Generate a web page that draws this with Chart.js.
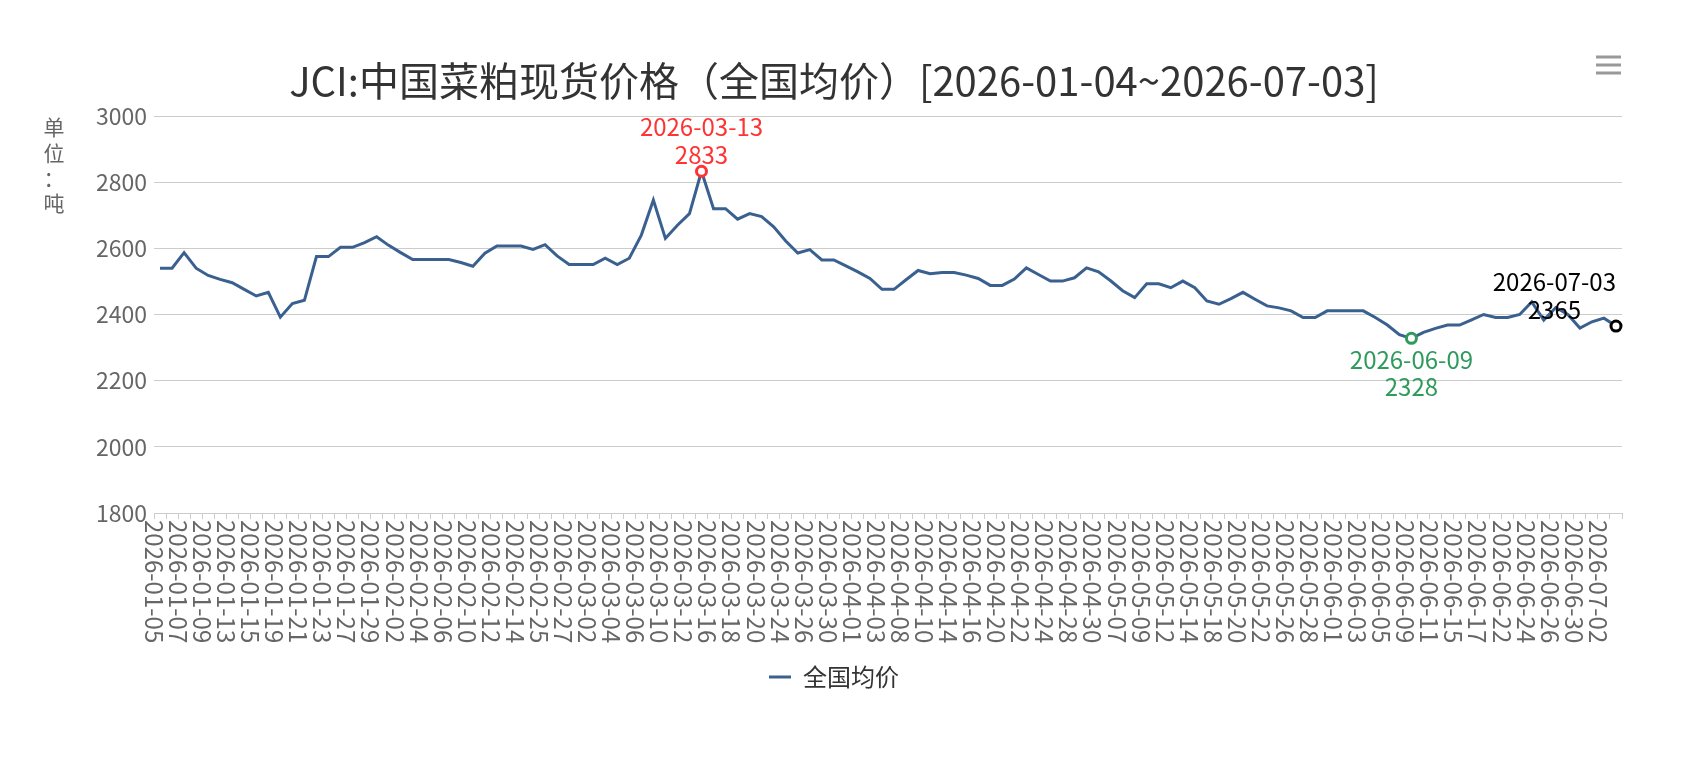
<!DOCTYPE html>
<html lang="zh-CN">
<head>
<meta charset="utf-8">
<title>JCI 中国菜粕现货价格</title>
<script src="https://cdn.jsdelivr.net/npm/chart.js@4.4.1/dist/chart.umd.min.js"></script>
<style>
  html, body { margin: 0; padding: 0; background: #fff; }
  #wrap { width: 1704px; height: 766px; position: relative; }
</style>
</head>
<body>
<div id="wrap"><canvas id="grafico" width="1704" height="766"></canvas></div>
<script>
// 交易日（横轴）
const fechas = [
  '2026-01-05','2026-01-06','2026-01-07','2026-01-08','2026-01-09',
  '2026-01-12','2026-01-13','2026-01-14','2026-01-15','2026-01-16',
  '2026-01-19','2026-01-20','2026-01-21','2026-01-22','2026-01-23',
  '2026-01-26','2026-01-27','2026-01-28','2026-01-29','2026-01-30',
  '2026-02-02','2026-02-03','2026-02-04','2026-02-05','2026-02-06',
  '2026-02-09','2026-02-10','2026-02-11','2026-02-12','2026-02-13',
  '2026-02-14','2026-02-24','2026-02-25','2026-02-26','2026-02-27',
  '2026-02-28','2026-03-02','2026-03-03','2026-03-04','2026-03-05',
  '2026-03-06','2026-03-09','2026-03-10','2026-03-11','2026-03-12',
  '2026-03-13','2026-03-16','2026-03-17','2026-03-18','2026-03-19',
  '2026-03-20','2026-03-23','2026-03-24','2026-03-25','2026-03-26',
  '2026-03-27','2026-03-30','2026-03-31','2026-04-01','2026-04-02',
  '2026-04-03','2026-04-07','2026-04-08','2026-04-09','2026-04-10',
  '2026-04-13','2026-04-14','2026-04-15','2026-04-16','2026-04-17',
  '2026-04-20','2026-04-21','2026-04-22','2026-04-23','2026-04-24',
  '2026-04-27','2026-04-28','2026-04-29','2026-04-30','2026-05-06',
  '2026-05-07','2026-05-08','2026-05-09','2026-05-11','2026-05-12',
  '2026-05-13','2026-05-14','2026-05-15','2026-05-18','2026-05-19',
  '2026-05-20','2026-05-21','2026-05-22','2026-05-25','2026-05-26',
  '2026-05-27','2026-05-28','2026-05-29','2026-06-01','2026-06-02',
  '2026-06-03','2026-06-04','2026-06-05','2026-06-08','2026-06-09',
  '2026-06-10','2026-06-11','2026-06-12','2026-06-15','2026-06-16',
  '2026-06-17','2026-06-18','2026-06-22','2026-06-23','2026-06-24',
  '2026-06-25','2026-06-26','2026-06-29','2026-06-30','2026-07-01',
  '2026-07-02','2026-07-03'
];

// 全国均价（元/吨）
const precios = [
  2540, 2540, 2587, 2540, 2518,
  2506, 2496, 2476, 2456, 2467,
  2392, 2433, 2443, 2575, 2575,
  2603, 2603, 2617, 2635, 2609,
  2587, 2566, 2566, 2566, 2566,
  2557, 2546, 2585, 2607, 2607,
  2607, 2597, 2611, 2577, 2551,
  2551, 2551, 2570, 2551, 2570,
  2640, 2746, 2630, 2670, 2705,
  2833, 2720, 2720, 2688, 2705,
  2696, 2665, 2622, 2586, 2596,
  2565, 2565, 2547, 2529, 2509,
  2476, 2476, 2505, 2533, 2523,
  2527, 2527, 2519, 2509, 2488,
  2488, 2507, 2541, 2521, 2501,
  2501, 2511, 2541, 2529, 2502,
  2472, 2451, 2493, 2493, 2481,
  2501, 2481, 2441, 2431, 2448,
  2467, 2446, 2426, 2420, 2411,
  2391, 2391, 2411, 2411, 2411,
  2411, 2391, 2368, 2339, 2328,
  2346, 2358, 2368, 2368, 2384,
  2400, 2391, 2391, 2400, 2438,
  2383, 2421, 2400, 2359, 2378,
  2389, 2365
];

const yTicks = [1800, 2000, 2200, 2400, 2600, 2800, 3000];
const serie = '全国均价';
const titulo = 'JCI:中国菜粕现货价格（全国均价）[2026-01-04~2026-07-03]';
const unidad = ['单', '位', '：', '吨'];

// 标注点：最高、最低、最新
const iMax = precios.indexOf(Math.max(...precios));
const iMin = precios.indexOf(Math.min(...precios));
const iLast = precios.length - 1;
const marcas = [
  { i: iMax, color: '#ff3333', arriba: true },
  { i: iMin, color: '#2e9b5c', arriba: false },
  { i: iLast, color: '#000000', arriba: true }
];

const FUENTE = "'Noto Sans CJK SC', 'Noto Sans', sans-serif";

const colorPunto = ctx => {
  const m = marcas.find(m => m.i === ctx.dataIndex);
  return m ? m.color : '#3a6090';
};
const radioPunto = ctx => marcas.some(m => m.i === ctx.dataIndex) ? 5 : 0;

// 纵轴标题（竖排）、横轴日期（顺时针旋转）、标注文字、菜单图标
const extras = {
  id: 'extras',
  afterDraw(chart) {
    const c = chart.ctx;
    const xs = chart.scales.x;
    const area = chart.chartArea;
    c.save();

    c.fillStyle = '#666';
    c.font = '21px ' + FUENTE;
    c.textAlign = 'center';
    c.textBaseline = 'middle';
    const ys = [127, 153, 178, 203];
    unidad.forEach((t, k) => c.fillText(t, 54, ys[k]));

    c.font = '24px ' + FUENTE;
    c.textAlign = 'left';
    fechas.forEach((f, i) => {
      if (i % 2) return;
      const x = xs.getPixelForValue(i) - 6;
      c.save();
      c.translate(x, area.bottom + 7);
      c.rotate(Math.PI / 2);
      c.fillText(f, 0, 0);
      c.restore();
    });

    const meta = chart.getDatasetMeta(0);
    c.font = '24px ' + FUENTE;
    c.textAlign = 'center';
    marcas.forEach(m => {
      const p = meta.data[m.i];
      const lineas = [fechas[m.i], String(precios[m.i])];
      const w = Math.max(...lineas.map(t => c.measureText(t).width));
      const cx = Math.min(p.x, area.right - 6 - w / 2);
      c.fillStyle = m.color;
      if (m.arriba) {
        c.fillText(lineas[0], cx, p.y - 44);
        c.fillText(lineas[1], cx, p.y - 16);
      } else {
        c.fillText(lineas[0], cx, p.y + 22);
        c.fillText(lineas[1], cx, p.y + 49);
      }
    });

    c.strokeStyle = '#999';
    c.lineWidth = 3;
    [57, 65, 73].forEach(y => {
      c.beginPath();
      c.moveTo(1596, y);
      c.lineTo(1621, y);
      c.stroke();
    });
    c.restore();
  }
};

const ctx = document.getElementById('grafico').getContext('2d');
new Chart(ctx, {
  type: 'line',
  data: {
    labels: fechas,
    datasets: [{
      label: serie,
      data: precios,
      borderColor: '#3a6090',
      backgroundColor: '#3a6090',
      borderWidth: 3,
      tension: 0,
      pointRadius: radioPunto,
      pointHoverRadius: radioPunto,
      pointBorderColor: colorPunto,
      pointBackgroundColor: '#ffffff',
      pointBorderWidth: 3
    }]
  },
  options: {
    responsive: false,
    animation: false,
    layout: { padding: { top: 0, right: 82, bottom: 67, left: 46 } },
    scales: {
      x: {
        type: 'category',
        offset: true,
        grid: { drawOnChartArea: false, drawTicks: true, tickLength: 6, color: '#cccccc', offset: true },
        border: { color: '#cccccc', width: 1 },
        ticks: { display: false },
        afterFit(scale) { scale.height = 140; }
      },
      y: {
        min: yTicks[0],
        max: yTicks[yTicks.length - 1],
        grid: { color: '#cccccc', drawTicks: false },
        border: { display: false },
        ticks: {
          stepSize: yTicks[1] - yTicks[0],
          padding: 7,
          color: '#666',
          font: { family: FUENTE, size: 23 },
          callback: v => String(v)
        },
        afterFit(scale) { scale.width = 108; }
      }
    },
    plugins: {
      title: {
        display: true,
        text: titulo,
        color: '#333',
        font: { family: FUENTE, size: 40, weight: 'normal' },
        padding: { top: 57, bottom: 11 }
      },
      legend: {
        position: 'bottom',
        labels: {
          usePointStyle: true,
          pointStyle: 'line',
          pointStyleWidth: 22,
          padding: 12,
          color: '#333',
          font: { family: FUENTE, size: 24 }
        }
      },
      tooltip: { enabled: false }
    }
  },
  plugins: [extras]
});
</script>
</body>
</html>
